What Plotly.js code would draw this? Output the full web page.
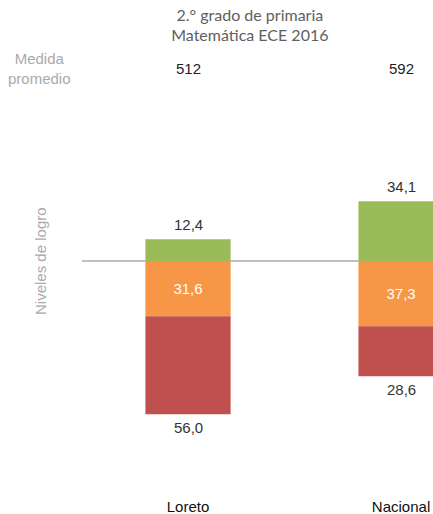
<!DOCTYPE html>
<html><head><meta charset="utf-8">
<script src="https://cdn.plot.ly/plotly-3.0.1.min.js"></script>
<style>body{margin:0;}#chart{width:433px;height:514px;}</style>
</head><body><div id="chart"></div>
<script>
var categories = ['Loreto', 'Nacional'];
var satisfactorio = [12.4, 34.1];
var enProceso = [31.6, 37.3];
var enInicio = [56.0, 28.6];
var medidaPromedio = [512, 592];

function fmt(v){ return v.toFixed(1).replace('.', ','); }

var font = 'Liberation Sans, Arial, sans-serif';
var traces = [
  {type:'bar', x:categories, y:satisfactorio, marker:{color:'#9BBB59'}, width:0.4, hoverinfo:'skip'},
  {type:'bar', x:categories, y:enProceso.map(function(v){return -v;}), marker:{color:'#F79646'}, width:0.4,
   text:enProceso.map(fmt), textposition:'inside', insidetextanchor:'middle',
   textfont:{color:'#ffffff', size:15, family:font}, hoverinfo:'skip'},
  {type:'bar', x:categories, y:enInicio.map(function(v){return -v;}), marker:{color:'#C0504D'}, width:0.4, hoverinfo:'skip'}
];

var annotations = [];
categories.forEach(function(c, i){
  annotations.push({x:c, y:satisfactorio[i], xref:'x', yref:'y', text:fmt(satisfactorio[i]), showarrow:false,
    yanchor:'bottom', yshift:4, font:{size:15, color:'#333', family:font}});
  annotations.push({x:c, y:-(enProceso[i]+enInicio[i]), xref:'x', yref:'y', text:fmt(enInicio[i]), showarrow:false,
    yanchor:'top', yshift:-3, font:{size:15, color:'#333', family:font}});
  annotations.push({x:c, y:1.0655, xref:'x', yref:'paper', text:String(medidaPromedio[i]), showarrow:false,
    yanchor:'middle', font:{size:15, color:'#222', family:font}});
});
annotations.push({x:-0.1197, y:1.0655, xref:'paper', yref:'paper', text:'Medida<br>promedio', showarrow:false,
  xanchor:'center', yanchor:'middle', font:{size:15, color:'#aaaaaa', family:font}});
annotations.push({x:-0.1197, y:0, xref:'paper', yref:'y', text:'Niveles de logro', showarrow:false, textangle:-90,
  xanchor:'center', yanchor:'middle', font:{size:15, color:'#aaaaaa', family:font}});

var layout = {
  width:433, height:514,
  margin:{l:82, r:0, t:95, b:22},
  paper_bgcolor:'#ffffff', plot_bgcolor:'#ffffff',
  barmode:'relative', showlegend:false,
  title:{text:'2.° grado de primaria<br>Matemática ECE 2016', xref:'container', x:0.577, xanchor:'center',
    yref:'container', y:0.96, yanchor:'top', font:{size:16, color:'#606060', family:'Lato, sans-serif'}},
  xaxis:{range:[-0.4977, 1.150], showgrid:false, zeroline:false, showline:false, ticks:'', ticklabelstandoff:4,
    tickfont:{size:15, color:'#111', family:font}, fixedrange:true},
  yaxis:{range:[-132, 94.86], showgrid:false, showticklabels:false, ticks:'', showline:false,
    zeroline:true, zerolinecolor:'rgba(150,150,150,0.6)', zerolinewidth:1.5, layer:'above traces', fixedrange:true},
  annotations:annotations
};
Plotly.newPlot('chart', traces, layout, {displayModeBar:false, staticPlot:true});
</script></body></html>
